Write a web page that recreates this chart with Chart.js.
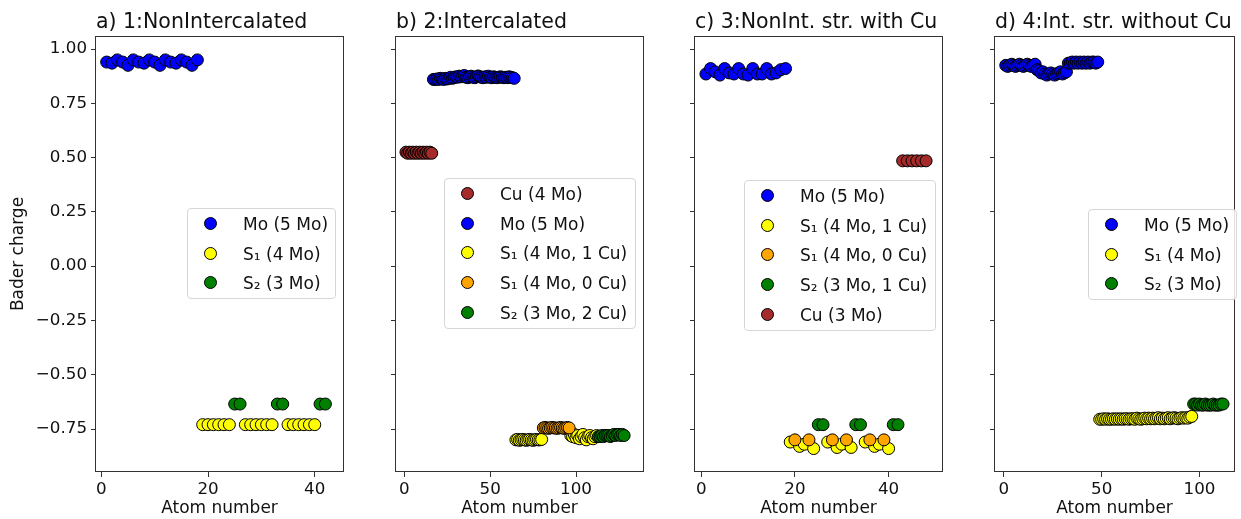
<!DOCTYPE html>
<html>
<head>
<meta charset="utf-8">
<script src="https://cdn.jsdelivr.net/npm/chart.js@4.4.0/dist/chart.umd.min.js"></script>
<style>
  body { margin: 0; background: #fff; }
  #wrap { position: relative; width: 1241px; height: 519px; overflow: hidden; font-family: "DejaVu Sans", sans-serif; }
  #wrap canvas { position: absolute; top: 0; }
  .lg { position: absolute; border: 1px solid #d6d6d6; border-radius: 4px; background: rgba(255,255,255,0.85); box-sizing: border-box; }
  .lg .row { position: absolute; left: 0; height: 20px; line-height: 20px; font-size: 17px; color: #111; white-space: nowrap; }
  .lg .dot { position: absolute; width: 11px; height: 11px; border: 1px solid #000; border-radius: 50%; top: 3px; }
</style>
</head>
<body>
<div id="wrap"></div>
<script>
// atom numbers are consecutive indices
function span(a, b) {
    const out = [];
    for (let i = a; i <= b; i++) out.push(i);
    return out;
}

const yTicks = [-0.75, -0.5, -0.25, 0, 0.25, 0.5, 0.75, 1.0];
const xTicksA = [0, 20, 40];
const xTicksB = [0, 50, 100];
const xTicksC = [0, 20, 40];
const xTicksD = [0, 50, 100];

const titles = ['a) 1:NonIntercalated', 'b) 2:Intercalated', 'c) 3:NonInt. str. with Cu', 'd) 4:Int. str. without Cu'];

// a) 1:NonIntercalated
const aMoX = span(1, 18);
const aMoY = [0.94, 0.935, 0.95, 0.94, 0.925, 0.95, 0.94, 0.935, 0.95, 0.94, 0.925, 0.95, 0.94, 0.935, 0.95, 0.94, 0.925, 0.95];
const aS1X = span(19, 24).concat(span(27, 32), span(35, 40));
const aS1Y = [-0.73, -0.73, -0.73, -0.73, -0.73, -0.73, -0.73, -0.73, -0.73, -0.73, -0.73, -0.73, -0.73, -0.73, -0.73, -0.73, -0.73, -0.73];
const aS2X = [25, 26, 33, 34, 41, 42];
const aS2Y = [-0.635, -0.635, -0.635, -0.635, -0.635, -0.635];

// b) 2:Intercalated
const bCuX = span(1, 16);
const bCuY = [0.525, 0.52, 0.525, 0.52, 0.525, 0.52, 0.525, 0.52, 0.525, 0.52, 0.525, 0.52, 0.525, 0.52, 0.525, 0.52];
const bMoX = span(17, 64);
const bMoY = [0.86, 0.86, 0.862, 0.86, 0.865, 0.862, 0.86, 0.865, 0.862, 0.865, 0.87, 0.865, 0.868, 0.872, 0.87, 0.875,
              0.872, 0.875, 0.878, 0.87, 0.868, 0.872, 0.875, 0.87, 0.868, 0.872, 0.876, 0.872, 0.87, 0.868, 0.872, 0.87,
              0.875, 0.87, 0.868, 0.872, 0.87, 0.868, 0.87, 0.872, 0.87, 0.868, 0.87, 0.868, 0.872, 0.87, 0.868, 0.865];
const bS1X = span(65, 80).concat(span(97, 112));
const bS1Y = [-0.8, -0.798, -0.802, -0.8, -0.798, -0.8, -0.802, -0.8, -0.798, -0.8, -0.802, -0.8, -0.798, -0.8, -0.8, -0.798,
              -0.78, -0.785, -0.775, -0.79, -0.78, -0.795, -0.785, -0.775, -0.79, -0.8, -0.785, -0.78, -0.79, -0.795, -0.785, -0.78];
const bS1oX = span(81, 96);
const bS1oY = [-0.745, -0.743, -0.745, -0.747, -0.745, -0.743, -0.745, -0.745, -0.747, -0.745, -0.743, -0.745, -0.747, -0.745, -0.743, -0.745];
const bS2X = span(113, 128);
const bS2Y = [-0.785, -0.785, -0.78, -0.785, -0.78, -0.78, -0.78, -0.785, -0.78, -0.775, -0.78, -0.775, -0.775, -0.78, -0.775, -0.78];

// c) 3:NonInt. str. with Cu
const cMoX = span(1, 18);
const cMoY = [0.885, 0.91, 0.895, 0.88, 0.91, 0.89, 0.885, 0.91, 0.885, 0.88, 0.91, 0.885, 0.885, 0.91, 0.885, 0.89, 0.905, 0.91];
const cS1X = [19, 21, 22, 24, 27, 29, 30, 32, 35, 37, 38, 40];
const cS1Y = [-0.81, -0.83, -0.82, -0.84, -0.81, -0.835, -0.82, -0.835, -0.81, -0.83, -0.82, -0.84];
const cS1oX = [20, 23, 28, 31, 36, 39];
const cS1oY = [-0.8, -0.8, -0.8, -0.8, -0.8, -0.8];
const cS2X = [25, 26, 33, 34, 41, 42];
const cS2Y = [-0.73, -0.73, -0.73, -0.73, -0.73, -0.73];
const cCuX = span(43, 48);
const cCuY = [0.485, 0.485, 0.485, 0.485, 0.485, 0.485];

// d) 4:Int. str. without Cu
const dMoX = span(1, 48);
const dMoY = [0.925, 0.92, 0.925, 0.93, 0.925, 0.92, 0.925, 0.93, 0.925, 0.92, 0.925, 0.93, 0.925, 0.92, 0.925, 0.93,
              0.905, 0.9, 0.89, 0.895, 0.885, 0.88, 0.885, 0.89, 0.885, 0.88, 0.885, 0.89, 0.895, 0.885, 0.89, 0.895,
              0.935, 0.935, 0.94, 0.935, 0.94, 0.935, 0.94, 0.935, 0.94, 0.935, 0.94, 0.935, 0.94, 0.94, 0.935, 0.94];
const dS1X = span(49, 96);
const dS1Y = [-0.705, -0.705, -0.703, -0.705, -0.703, -0.705, -0.705, -0.703, -0.705, -0.703, -0.705, -0.703,
              -0.705, -0.703, -0.703, -0.705, -0.703, -0.703, -0.705, -0.7, -0.703, -0.705, -0.703, -0.7,
              -0.703, -0.7, -0.703, -0.7, -0.703, -0.7, -0.698, -0.703, -0.7, -0.703, -0.7, -0.698,
              -0.703, -0.7, -0.698, -0.7, -0.703, -0.7, -0.698, -0.7, -0.698, -0.7, -0.695, -0.692];
const dS2X = span(97, 112);
const dS2Y = [-0.635, -0.635, -0.64, -0.635, -0.64, -0.64, -0.635, -0.64, -0.64, -0.64, -0.635, -0.64, -0.64, -0.64, -0.635, -0.635];

const BLUE = '#0000ff', YELLOW = '#ffff00', GREEN = '#008000', ORANGE = '#ffa500', BROWN = '#a52a2a';

const panels = [
    { left: 0, width: 350, yW: 96, padR: 4, xMin: -1.0, xMax: 45.3, xTicks: xTicksA, showY: true,
      series: [['Mo (5 Mo)', BLUE, aMoX, aMoY], ['S\u2081 (4 Mo)', YELLOW, aS1X, aS1Y], ['S\u2082 (3 Mo)', GREEN, aS2X, aS2Y]],
      legend: { left: 187, top: 208, width: 149 } },
    { left: 346, width: 304, yW: 50, padR: 4, xMin: -4.8, xMax: 139, xTicks: xTicksB, showY: false,
      series: [['Cu (4 Mo)', BROWN, bCuX, bCuY], ['Mo (5 Mo)', BLUE, bMoX, bMoY], ['S\u2081 (4 Mo, 1 Cu)', YELLOW, bS1X, bS1Y],
               ['S\u2081 (4 Mo, 0 Cu)', ORANGE, bS1oX, bS1oY], ['S\u2082 (3 Mo, 2 Cu)', GREEN, bS2X, bS2Y]],
      legend: { left: 444, top: 178, width: 192 } },
    { left: 645, width: 304, yW: 50, padR: 4, xMin: -1.33, xMax: 51.4, xTicks: xTicksC, showY: false,
      series: [['Mo (5 Mo)', BLUE, cMoX, cMoY], ['S\u2081 (4 Mo, 1 Cu)', YELLOW, cS1X, cS1Y], ['S\u2081 (4 Mo, 0 Cu)', ORANGE, cS1oX, cS1oY],
               ['S\u2082 (3 Mo, 1 Cu)', GREEN, cS2X, cS2Y], ['Cu (3 Mo)', BROWN, cCuX, cCuY]],
      legend: { left: 744, top: 180, width: 192 } },
    { left: 945, width: 296, yW: 50, padR: 3, xMin: -4.5, xMax: 117.6, xTicks: xTicksD, showY: false,
      series: [['Mo (5 Mo)', BLUE, dMoX, dMoY], ['S\u2081 (4 Mo)', YELLOW, dS1X, dS1Y], ['S\u2082 (3 Mo)', GREEN, dS2X, dS2Y]],
      legend: { left: 1088, top: 209, width: 149 } }
];

const framePlugin = {
    id: 'frame',
    afterDraw(chart, args, opts) {
        const { ctx, chartArea: a } = chart;
        ctx.save();
        ctx.strokeStyle = '#333';
        ctx.lineWidth = 1;
        ctx.strokeRect(Math.round(a.left) - 0.5, Math.round(a.top) + 0.5, Math.round(a.right - a.left) + 1, Math.round(a.bottom - a.top) - 1);
        ctx.fillStyle = '#111';
        ctx.font = '20.5px "DejaVu Sans"';
        ctx.textBaseline = 'alphabetic';
        ctx.textAlign = 'left';
        ctx.fillText(opts.text, a.left, 28);
        ctx.restore();
    }
};

const tickFont = { family: 'DejaVu Sans', size: 16.7 };
const labelFont = { family: 'DejaVu Sans', size: 17 };
const wrap = document.getElementById('wrap');

panels.forEach(function (p, pi) {
    const canvas = document.createElement('canvas');
    canvas.width = p.width;
    canvas.height = 519;
    canvas.style.left = p.left + 'px';
    canvas.style.width = p.width + 'px';
    canvas.style.height = '519px';
    wrap.appendChild(canvas);

    const datasets = p.series.map(function (s, i) {
        return {
            label: s[0],
            data: s[2].map(function (x, k) { return { x: x, y: s[3][k] }; }),
            backgroundColor: s[1],
            borderColor: '#000',
            borderWidth: 1,
            pointRadius: 6,
            pointHoverRadius: 6,
            order: -i
        };
    });

    new Chart(canvas.getContext('2d'), {
        type: 'scatter',
        data: { datasets: datasets },
        options: {
            responsive: false,
            animation: false,
            devicePixelRatio: 1,
            layout: { padding: { top: 36, right: p.padR, bottom: 0, left: 0 } },
            plugins: {
                legend: { display: false },
                tooltip: { enabled: false },
                frame: { text: titles[pi] }
            },
            scales: {
                x: {
                    type: 'linear',
                    min: p.xMin,
                    max: p.xMax,
                    afterBuildTicks: function (scale) { scale.ticks = p.xTicks.map(function (v) { return { value: v }; }); },
                    afterFit: function (scale) { scale.height = 47; },
                    grid: { drawOnChartArea: false, drawTicks: true, tickLength: 5, color: '#333' },
                    border: { display: false },
                    ticks: { font: tickFont, color: '#111', padding: 3, maxRotation: 0 },
                    title: { display: true, text: 'Atom number', font: labelFont, color: '#111', padding: { top: 0, bottom: 0 } }
                },
                y: {
                    type: 'linear',
                    min: -0.948,
                    max: 1.06,
                    afterBuildTicks: function (scale) { scale.ticks = yTicks.map(function (v) { return { value: v }; }); },
                    afterFit: function (scale) { scale.width = p.yW; },
                    grid: { drawOnChartArea: false, drawTicks: true, tickLength: 5, color: '#333' },
                    border: { display: false },
                    ticks: {
                        font: tickFont, color: '#111', padding: 4,
                        callback: function (v) { return p.showY ? v.toFixed(2).replace('-', '\u2212') : ''; }
                    },
                    title: { display: p.showY, text: 'Bader charge', font: labelFont, color: '#111', padding: { top: 8, bottom: 0 } }
                }
            }
        },
        plugins: [framePlugin]
    });

    // legend box, built from the same series
    const lg = document.createElement('div');
    lg.className = 'lg';
    lg.style.left = p.legend.left + 'px';
    lg.style.top = p.legend.top + 'px';
    lg.style.width = p.legend.width + 'px';
    lg.style.height = (32 + (p.series.length - 1) * 29.7) + 'px';
    p.series.forEach(function (s, i) {
        const row = document.createElement('div');
        row.className = 'row';
        row.style.top = (16 + i * 29.7 - 11) + 'px';
        const dot = document.createElement('span');
        dot.className = 'dot';
        dot.style.left = '16px';
        dot.style.background = s[1];
        const txt = document.createElement('span');
        txt.textContent = s[0];
        txt.style.position = 'absolute';
        txt.style.left = '55px';
        row.appendChild(dot);
        row.appendChild(txt);
        lg.appendChild(row);
    });
    wrap.appendChild(lg);
});
</script>
</body>
</html>
